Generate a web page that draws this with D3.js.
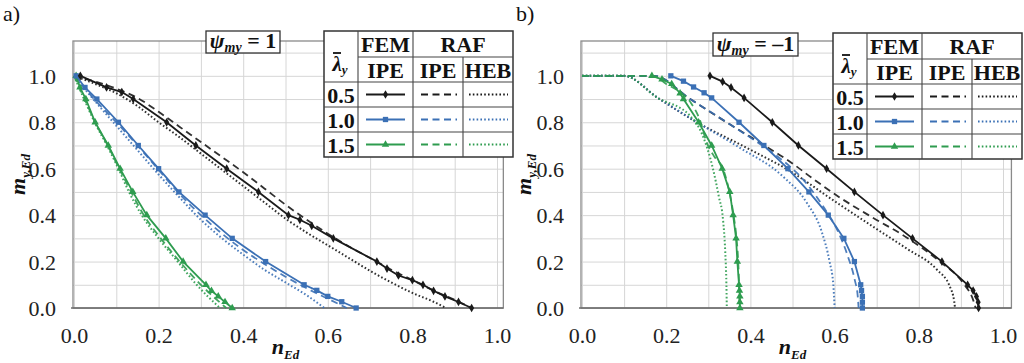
<!DOCTYPE html>
<html><head><meta charset="utf-8">
<script src="https://cdn.jsdelivr.net/npm/d3@7"></script>
<style>
html,body{margin:0;padding:0;background:#fff;}
svg{display:block;}
svg text{font-family:"Liberation Serif","Times New Roman","DejaVu Serif",serif !important;}
</style></head>
<body><svg id="c" width="1024" height="363"></svg>
<script>
// ---------- data ----------
const xTickValues = [0, 0.2, 0.4, 0.6, 0.8, 1.0];
const xTickLabels = ["0.0", "0.2", "0.4", "0.6", "0.8", "1.0"];
const yTickValues = [0, 0.2, 0.4, 0.6, 0.8, 1.0];
const yTickLabels = ["0.0", "0.2", "0.4", "0.6", "0.8", "1.0"];
const lambdaLabels = ["0.5", "1.0", "1.5"];
const panelLabels = ["a)", "b)"];
const psiValues = ["1", "–1"];

// panel a) psi = 1  : [n_Ed, m_y,Ed]
const A_FEM_05 = [[0.015,1],[0.077,0.95],[0.113,0.93],[0.14,0.9],[0.219,0.8],[0.288,0.7],[0.361,0.6],[0.436,0.5],[0.507,0.4],[0.534,0.38],[0.562,0.354],[0.613,0.3],[0.716,0.2],[0.74,0.17],[0.767,0.14],[0.80,0.12],[0.825,0.1],[0.85,0.074],[0.877,0.05],[0.909,0.026],[0.94,0]];
const A_IPE_05 = [[0,1],[0.05,0.975],[0.1,0.945],[0.15,0.905],[0.2,0.845],[0.25,0.78],[0.3,0.715],[0.35,0.65],[0.4,0.585],[0.45,0.515],[0.5,0.445],[0.55,0.38],[0.6,0.32],[0.65,0.265],[0.7,0.215],[0.75,0.165],[0.8,0.12],[0.85,0.075],[0.9,0.035],[0.94,0]];
const A_HEB_05 = [[0,1],[0.05,0.965],[0.1,0.925],[0.15,0.87],[0.2,0.8],[0.25,0.735],[0.3,0.665],[0.35,0.595],[0.4,0.525],[0.45,0.455],[0.5,0.385],[0.55,0.325],[0.6,0.27],[0.65,0.215],[0.7,0.16],[0.75,0.11],[0.8,0.065],[0.85,0.027],[0.88,0]];
const A_FEM_10 = [[0.005,1],[0.026,0.95],[0.054,0.9],[0.105,0.8],[0.152,0.7],[0.2,0.6],[0.248,0.5],[0.31,0.4],[0.374,0.3],[0.453,0.2],[0.544,0.1],[0.574,0.076],[0.6,0.05],[0.633,0.027],[0.667,0]];
const A_IPE_10 = [[0,1],[0.05,0.895],[0.1,0.8],[0.15,0.7],[0.2,0.595],[0.25,0.49],[0.3,0.4],[0.35,0.32],[0.4,0.25],[0.45,0.19],[0.5,0.135],[0.55,0.085],[0.6,0.04],[0.645,0]];
const A_HEB_10 = [[0,1],[0.05,0.89],[0.1,0.785],[0.15,0.68],[0.2,0.575],[0.25,0.475],[0.3,0.38],[0.35,0.3],[0.4,0.23],[0.45,0.165],[0.5,0.11],[0.55,0.055],[0.592,0]];
const A_FEM_15 = [[0.005,1],[0.014,0.95],[0.028,0.9],[0.05,0.8],[0.081,0.7],[0.109,0.6],[0.139,0.5],[0.172,0.4],[0.217,0.3],[0.258,0.2],[0.312,0.1],[0.325,0.074],[0.341,0.05],[0.357,0.026],[0.374,0]];
const A_IPE_15 = [[0,1],[0.025,0.9],[0.05,0.8],[0.08,0.7],[0.107,0.6],[0.135,0.5],[0.165,0.4],[0.205,0.3],[0.25,0.2],[0.3,0.1],[0.36,0]];
const A_HEB_15 = [[0,1],[0.025,0.895],[0.05,0.795],[0.078,0.7],[0.105,0.6],[0.13,0.5],[0.16,0.4],[0.2,0.3],[0.245,0.2],[0.29,0.1],[0.345,0]];

// panel b) psi = -1
const B_FEM_05 = [[0.304,1],[0.334,0.975],[0.354,0.95],[0.385,0.905],[0.452,0.8],[0.514,0.7],[0.581,0.6],[0.647,0.5],[0.715,0.4],[0.785,0.3],[0.855,0.2],[0.916,0.1],[0.929,0.075],[0.937,0.05],[0.941,0.025],[0.942,0]];
const B_IPE_05 = [[0,1],[0.17,1],[0.257,0.9],[0.352,0.79],[0.46,0.67],[0.494,0.63],[0.55,0.555],[0.613,0.475],[0.69,0.39],[0.77,0.305],[0.85,0.2],[0.905,0.108],[0.929,0.035],[0.935,0]];
const B_HEB_05 = [[0,1],[0.1,1],[0.18,0.905],[0.273,0.8],[0.38,0.7],[0.494,0.59],[0.6,0.46],[0.7,0.34],[0.772,0.255],[0.843,0.165],[0.874,0.091],[0.884,0.03],[0.886,0]];
const B_FEM_10 = [[0.211,1],[0.241,0.977],[0.265,0.952],[0.29,0.927],[0.308,0.905],[0.373,0.8],[0.432,0.7],[0.489,0.6],[0.539,0.5],[0.585,0.4],[0.622,0.3],[0.647,0.2],[0.662,0.1],[0.664,0.075],[0.666,0.05],[0.666,0.025],[0.666,0]];
const B_IPE_10 = [[0,1],[0.17,1],[0.257,0.9],[0.352,0.79],[0.42,0.71],[0.463,0.655],[0.525,0.554],[0.573,0.437],[0.608,0.33],[0.632,0.22],[0.648,0.12],[0.655,0.05],[0.657,0]];
const B_HEB_10 = [[0,1],[0.1,1],[0.18,0.905],[0.273,0.8],[0.375,0.69],[0.477,0.567],[0.534,0.453],[0.57,0.325],[0.588,0.2],[0.597,0.1],[0.6,0]];
const B_FEM_15 = [[0.166,1],[0.19,0.985],[0.213,0.965],[0.233,0.925],[0.241,0.9],[0.277,0.8],[0.308,0.7],[0.333,0.6],[0.351,0.5],[0.359,0.4],[0.366,0.3],[0.369,0.2],[0.373,0.1],[0.374,0.075],[0.375,0.05],[0.375,0.025],[0.375,0]];
const B_IPE_15 = [[0,1],[0.17,1],[0.2,0.965],[0.233,0.93],[0.26,0.88],[0.28,0.81],[0.296,0.714],[0.315,0.65],[0.335,0.6],[0.35,0.5],[0.36,0.4],[0.367,0.3],[0.371,0.2],[0.373,0.1],[0.374,0]];
const B_HEB_15 = [[0,1],[0.1,1],[0.18,0.905],[0.257,0.827],[0.285,0.75],[0.311,0.6],[0.325,0.48],[0.335,0.38],[0.34,0.25],[0.343,0.1],[0.344,0]];

// ---------- styles ----------
const COLORS = ["#1a1a1a", "#3b70b5", "#2e9c4f"];
const SYMBOLS = [d3.symbolDiamond, d3.symbolSquare, d3.symbolTriangle];
const SYMSIZE = [22, 28, 24];

const panels = [
  {label: panelLabels[0], psi: psiValues[0], xr: [74, 497], xmaxFrame: 1.015, labelX: 3,
   psiBox: [206, 31, 74, 22], legend: [324, 31], mLabelX: 25,
   fem: [A_FEM_05, A_FEM_10, A_FEM_15], ipe: [A_IPE_05, A_IPE_10, A_IPE_15], heb: [A_HEB_05, A_HEB_10, A_HEB_15]},
  {label: panelLabels[1], psi: psiValues[1], xr: [582, 1003], xmaxFrame: 1.02, labelX: 516,
   psiBox: [713, 33, 85, 23], legend: [833, 33], mLabelX: 531,
   fem: [B_FEM_05, B_FEM_10, B_FEM_15], ipe: [B_IPE_05, B_IPE_10, B_IPE_15], heb: [B_HEB_05, B_HEB_10, B_HEB_15]}
];

const svg = d3.select("#c");
const y = d3.scaleLinear().domain([0, 1.15]).range([308, 41]);

panels.forEach(p => {
  const x = d3.scaleLinear().domain([0, 1]).range(p.xr);
  const g = svg.append("g");
  const left = x(0) - 1, right = x(p.xmaxFrame), top = y(1.15), bottom = y(0);

  // grid
  const gx = g.append("g").attr("transform", `translate(0,${bottom})`)
    .call(d3.axisBottom(x).tickValues(d3.range(0, 1.001, 0.1)).tickSize(-(bottom - top)).tickFormat(""));
  gx.select(".domain").remove();
  gx.selectAll("line").attr("stroke", "#d6d6d6").attr("stroke-width", 1);
  const gy = g.append("g").attr("transform", `translate(${left},0)`)
    .call(d3.axisLeft(y).tickValues(d3.range(0, 1.101, 0.1)).tickSize(-(right - left)).tickFormat(""));
  gy.select(".domain").remove();
  gy.selectAll("line").attr("stroke", "#d6d6d6").attr("stroke-width", 1);

  // frame
  g.append("rect").attr("x", left).attr("y", top).attr("width", right - left).attr("height", bottom - top)
    .attr("fill", "none").attr("stroke", "#8a8a8a").attr("stroke-width", 1.3);
  g.append("line").attr("x1", left - 2).attr("x2", right).attr("y1", bottom).attr("y2", bottom)
    .attr("stroke", "#6e6e6e").attr("stroke-width", 1.6);

  // tick labels via axes
  const ax = g.append("g").attr("transform", `translate(0,${bottom + 19})`)
    .call(d3.axisBottom(x).tickValues(xTickValues).tickSize(0).tickFormat((d, i) => xTickLabels[i]));
  ax.select(".domain").remove();
  ax.selectAll("text").attr("font-size", 22).attr("fill", "#222").attr("dy", "0.71em").attr("y", 0);
  const ay = g.append("g").attr("transform", `translate(${x(0) - 18},0)`)
    .call(d3.axisLeft(y).tickValues(yTickValues).tickSize(0).tickFormat((d, i) => yTickLabels[i]));
  ay.select(".domain").remove();
  ay.selectAll("text").attr("font-size", 22).attr("fill", "#222").attr("x", 0).attr("dy", "0.34em");

  // curves: RAF (black first so green/blue sit on top), then FEM with markers
  const lineLin = d3.line().x(d => x(d[0])).y(d => y(d[1]));
  const lineSm = d3.line().x(d => x(d[0])).y(d => y(d[1])).curve(d3.curveMonotoneX);
  [0, 1, 2].forEach(i => {
    g.append("path").datum(p.heb[i]).attr("d", lineSm).attr("fill", "none")
      .attr("stroke", COLORS[i]).attr("stroke-width", 2).attr("stroke-dasharray", "1.6,2.2").attr("opacity", 0.9);
    g.append("path").datum(p.ipe[i]).attr("d", lineSm).attr("fill", "none")
      .attr("stroke", COLORS[i]).attr("stroke-width", 1.8).attr("stroke-dasharray", "7,4.5").attr("opacity", 0.9);
  });
  [2, 1, 0].forEach(i => {
    g.append("path").datum(p.fem[i]).attr("d", lineLin).attr("fill", "none")
      .attr("stroke", COLORS[i]).attr("stroke-width", 1.8);
    g.selectAll(null).data(p.fem[i]).enter().append("path")
      .attr("transform", d => `translate(${x(d[0])},${y(d[1])})`)
      .attr("d", d3.symbol().type(SYMBOLS[i]).size(SYMSIZE[i]))
      .attr("fill", COLORS[i]);
  });

  // panel label
  g.append("text").attr("x", p.labelX).attr("y", 21).attr("font-size", 22).attr("fill", "#111").text(p.label);

  // axis titles
  const xt = g.append("text").attr("x", (x(0) + x(1)) / 2).attr("y", 354).attr("text-anchor", "middle")
    .attr("font-weight", "bold").attr("font-style", "italic").attr("fill", "#111");
  xt.append("tspan").attr("font-size", 22).text("n");
  xt.append("tspan").attr("font-size", 13).attr("dy", 5).text("Ed");
  const yt = g.append("text").attr("transform", `translate(${p.mLabelX},${(top + bottom) / 2}) rotate(-90)`)
    .attr("text-anchor", "middle").attr("font-weight", "bold").attr("font-style", "italic").attr("fill", "#111");
  yt.append("tspan").attr("font-size", 22).text("m");
  yt.append("tspan").attr("font-size", 13).attr("dy", 5).text("y,Ed");

  // psi box
  const [bx, by, bw, bh] = p.psiBox;
  g.append("rect").attr("x", bx).attr("y", by).attr("width", bw).attr("height", bh)
    .attr("fill", "#fff").attr("stroke", "#333").attr("stroke-width", 1.3);
  const pt = g.append("text").attr("x", bx + bw / 2).attr("y", by + bh - 5).attr("text-anchor", "middle")
    .attr("font-weight", "bold").attr("fill", "#111");
  pt.append("tspan").attr("font-size", 22).attr("font-style", "italic").text("ψ");
  pt.append("tspan").attr("font-size", 14).attr("font-style", "italic").attr("dy", 4).text("my");
  pt.append("tspan").attr("font-size", 22).attr("dy", -4).text(" = " + p.psi);

  // legend table
  const [lx, ly] = p.legend;
  const cw = [34, 55, 50, 50];
  const rh = [26, 25, 25, 25, 25];
  const cx = [lx]; cw.forEach((w, i) => cx.push(cx[i] + w));
  const ry = [ly]; rh.forEach((h, i) => ry.push(ry[i] + h));
  const L = g.append("g");
  L.append("rect").attr("x", lx).attr("y", ly).attr("width", cx[4] - lx).attr("height", ry[5] - ly)
    .attr("fill", "#fff").attr("stroke", "#333").attr("stroke-width", 1.5);
  const seg = (x1, y1, x2, y2) => L.append("line").attr("x1", x1).attr("y1", y1).attr("x2", x2).attr("y2", y2)
    .attr("stroke", "#444").attr("stroke-width", 1.1);
  seg(cx[1], ly, cx[1], ry[5]);
  seg(cx[2], ly, cx[2], ry[5]);
  seg(cx[3], ry[1], cx[3], ry[5]);
  seg(cx[1], ry[1], cx[4], ry[1]);
  seg(lx, ry[2], cx[4], ry[2]);
  seg(lx, ry[3], cx[4], ry[3]);
  seg(lx, ry[4], cx[4], ry[4]);
  const tx = (xx, yy, s) => L.append("text").attr("x", xx).attr("y", yy).attr("text-anchor", "middle")
    .attr("font-weight", "bold").attr("font-size", 22).attr("fill", "#111").text(s);
  tx((cx[1] + cx[2]) / 2, ry[1] - 5, "FEM");
  tx((cx[2] + cx[4]) / 2, ry[1] - 5, "RAF");
  tx((cx[1] + cx[2]) / 2, ry[2] - 4, "IPE");
  tx((cx[2] + cx[3]) / 2, ry[2] - 4, "IPE");
  tx((cx[3] + cx[4]) / 2, ry[2] - 4, "HEB");
  const lt = L.append("text").attr("x", (cx[0] + cx[1]) / 2 - 1).attr("y", ly + 40).attr("text-anchor", "middle")
    .attr("font-weight", "bold").attr("font-style", "italic").attr("fill", "#111");
  lt.append("tspan").attr("font-size", 21).text("λ");
  lt.append("tspan").attr("font-size", 13).attr("dy", 3).text("y");
  L.append("line").attr("x1", lx + 9).attr("x2", lx + 17).attr("y1", ly + 22).attr("y2", ly + 22)
    .attr("stroke", "#111").attr("stroke-width", 1.8);
  lambdaLabels.forEach((lab, i) => {
    const r0 = ry[i + 2], r1 = ry[i + 3], ym = (r0 + r1) / 2;
    L.append("text").attr("x", (cx[0] + cx[1]) / 2).attr("y", r1 - 4).attr("text-anchor", "middle")
      .attr("font-weight", "bold").attr("font-size", 22).attr("fill", "#111").text(lab);
    L.append("line").attr("x1", cx[1] + 8).attr("x2", cx[2] - 8).attr("y1", ym).attr("y2", ym)
      .attr("stroke", COLORS[i]).attr("stroke-width", 1.8);
    L.append("path").attr("transform", `translate(${(cx[1] + cx[2]) / 2},${ym})`)
      .attr("d", d3.symbol().type(SYMBOLS[i]).size(SYMSIZE[i])).attr("fill", COLORS[i]);
    L.append("line").attr("x1", cx[2] + 8).attr("x2", cx[3] - 6).attr("y1", ym).attr("y2", ym)
      .attr("stroke", COLORS[i]).attr("stroke-width", 1.8).attr("stroke-dasharray", "7,4.5");
    L.append("line").attr("x1", cx[3] + 6).attr("x2", cx[4] - 5).attr("y1", ym).attr("y2", ym)
      .attr("stroke", COLORS[i]).attr("stroke-width", 2).attr("stroke-dasharray", "1.6,2.2");
  });
});
</script></body></html>
